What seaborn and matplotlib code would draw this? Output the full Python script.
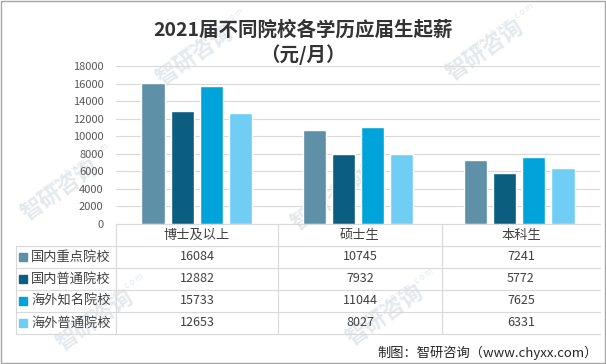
import pandas as pd
import matplotlib.pyplot as plt
import seaborn as sns
from matplotlib.lines import Line2D
from matplotlib.patches import Rectangle

# 数据
degrees = ['博士及以上', '硕士生', '本科生']
schools = ['国内重点院校', '国内普通院校', '海外知名院校', '海外普通院校']
top_domestic = [16084, 10745, 7241]
normal_domestic = [12882, 7932, 5772]
top_overseas = [15733, 11044, 7625]
normal_overseas = [12653, 8027, 6331]
yticks = [0, 2000, 4000, 6000, 8000, 10000, 12000, 14000, 16000, 18000]
colors = ['#5E90A8', '#0B5E80', '#00A3DA', '#70CEF4']

series = [top_domestic, normal_domestic, top_overseas, normal_overseas]
df = pd.DataFrame({
    'degree': [d for s in series for d in degrees],
    'school': [sc for sc, s in zip(schools, series) for _ in s],
    'salary': [v for s in series for v in s],
})

sns.set_style('white')
plt.rcParams['font.family'] = ['Noto Sans CJK SC', 'DejaVu Sans']

W, H = 606, 364
fig = plt.figure(figsize=(W / 100, H / 100), dpi=100)

def fx(x):
    return x / W

def fy(y):
    return 1 - y / H

# 水印（放在最底层）
for (wx, wy) in [(195, 55), (485, 50), (60, 190), (330, 200), (95, 320), (385, 315)]:
    fig.text(fx(wx), fy(wy), '智研咨询', fontsize=16, color='#E4E9EE', rotation=35,
             ha='center', va='center', fontweight='bold', zorder=-5)
    fig.text(fx(wx + 12), fy(wy - 20), 'w w w . c h y x x . c o m', fontsize=6,
             color='#E4E9EE', rotation=35, ha='center', va='center', zorder=-5)

# 绘图区
left, right, top, bottom = 116, 600, 66, 224
ax = fig.add_axes([fx(left), fy(bottom), fx(right - left), (bottom - top) / H])
ax.patch.set_alpha(0)
sns.barplot(data=df, x='degree', y='salary', hue='school', order=degrees,
            hue_order=schools, palette=colors, width=0.72, gap=0.2,
            saturation=1, legend=False, ax=ax, zorder=3)
ax.set_xlim(-0.5, 2.5)
ax.set_ylim(0, 18000)
ax.set_yticks(yticks)
ax.set_yticklabels([str(t) for t in yticks], fontsize=8, color='#595959')
ax.tick_params(axis='y', length=0, pad=9)
ax.set_xticks([])
ax.set_xlabel('')
ax.set_ylabel('')
ax.grid(axis='y', color='#D9D9D9', linewidth=0.8, zorder=0)
for s in ax.spines.values():
    s.set_visible(False)

# 标题
fig.text(0.5, fy(30), '2021届不同院校各学历应届生起薪', fontsize=14, fontweight='bold',
         color='#333333', ha='center', va='center')
fig.text(0.5, fy(55), '（元/月）', fontsize=14, fontweight='bold',
         color='#333333', ha='center', va='center')

# 数据表
col_edges = [left, 278, 442, right]
row_edges = [bottom, 246, 268, 290, 312, 334]
lc = '#D9D9D9'
fig.add_artist(Line2D([fx(left), fx(right)], [fy(bottom)] * 2, color=lc, lw=0.8))
for ry in row_edges[1:]:
    fig.add_artist(Line2D([fx(16), fx(right)], [fy(ry)] * 2, color=lc, lw=0.8))
fig.add_artist(Line2D([fx(16)] * 2, [fy(246), fy(334)], color=lc, lw=0.8))
for cx in col_edges[:-1]:
    fig.add_artist(Line2D([fx(cx)] * 2, [fy(bottom), fy(334)], color=lc, lw=0.8))

for i, d in enumerate(degrees):
    cx = (col_edges[i] + col_edges[i + 1]) / 2
    fig.text(fx(cx), fy(235), d, fontsize=9.5, color='#404040', ha='center', va='center')

for j, (sc, s) in enumerate(zip(schools, series)):
    cy = (row_edges[j + 1] + row_edges[j + 2]) / 2
    fig.add_artist(Rectangle((fx(19), fy(cy + 4)), fx(8), 8 / H, color=colors[j],
                             transform=fig.transFigure))
    fig.text(fx(31), fy(cy), sc, fontsize=9.5, color='#404040', ha='left', va='center')
    for i, v in enumerate(s):
        cx = (col_edges[i] + col_edges[i + 1]) / 2
        fig.text(fx(cx), fy(cy), str(v), fontsize=9, color='#404040',
                 ha='center', va='center')

# 来源
fig.text(fx(598), fy(353), '制图：智研咨询（www.chyxx.com）', fontsize=9.5,
         color='#262626', ha='right', va='center')

# 外框
fig.add_artist(Rectangle((0.001, 0.002), 0.997, 0.996, fill=False, edgecolor='#A6A6A6',
                         lw=1, transform=fig.transFigure))

fig.savefig('out.png', dpi=100)
